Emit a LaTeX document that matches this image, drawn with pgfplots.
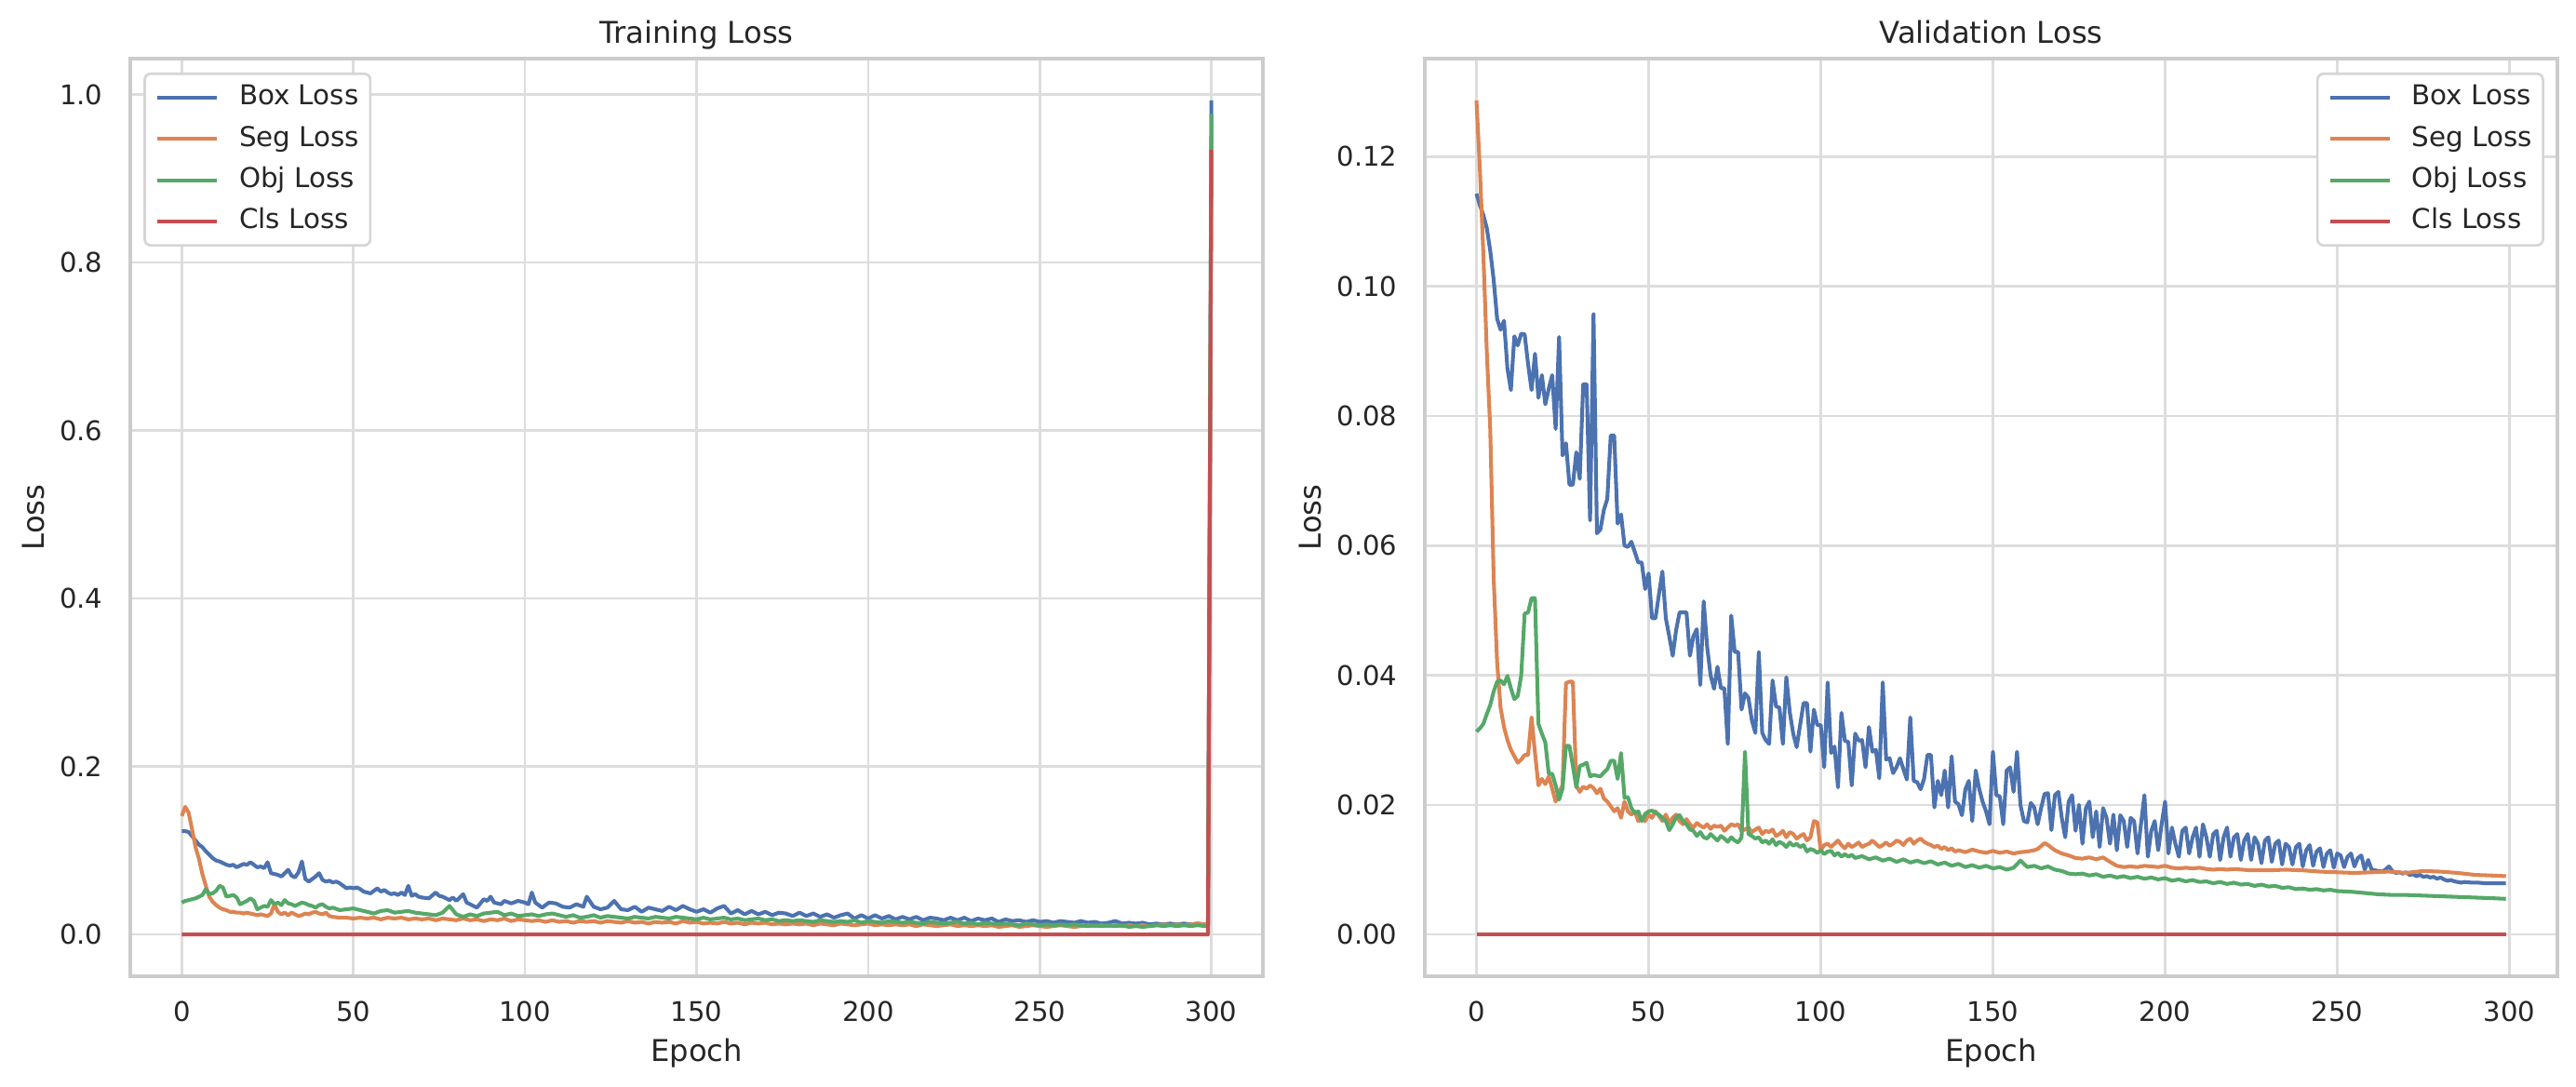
\documentclass[border=0pt]{standalone}
\usepackage{fontspec}
\setmainfont{DejaVu Sans}
\usepackage{pgfplots}
\pgfplotsset{compat=1.18}
\definecolor{cBlue}{HTML}{4C72B0}
\definecolor{cOrange}{HTML}{DD8452}
\definecolor{cGreen}{HTML}{55A868}
\definecolor{cRed}{HTML}{C44E52}
\definecolor{txt}{HTML}{262626}
\definecolor{spine}{HTML}{CCCCCC}
\definecolor{gridc}{HTML}{DDDDDD}
\definecolor{legc}{HTML}{D5D5D5}
\pgfplotsset{
  lossaxis/.style={
    scale only axis, width=464.5pt, height=376.34pt,
    xmin=-15, xmax=315, xtick={0,50,100,150,200,250,300},
    grid=major, major grid style={color=gridc, line width=1pt},
    axis line style={color=spine, line width=1.25pt},
    major tick length=0pt,
    tick label style={font=\fontsize{11.1}{13}\selectfont, text=txt, inner sep=0pt},
    /pgf/number format/assume math mode=true,
    xticklabel style={anchor=base, yshift=-18.7pt},
    yticklabel style={anchor=east, xshift=-11.1pt},
    every axis title/.style={at={(axis description cs:0.5,1)}, anchor=base, yshift=6.2pt, font=\fontsize{12.3}{14}\selectfont, text=txt},
    every axis x label/.style={at={(axis description cs:0.5,0)}, anchor=base, yshift=-35.1pt, font=\fontsize{12.3}{14}\selectfont, text=txt},
    xlabel=Epoch, ylabel=Loss,
    legend cell align=left,
    legend image code/.code={\path[draw=none,fill=none] (0pt,-4pt) rectangle (33.5pt,3pt); \draw[##1, sharp corners, line width=1.55pt] (0pt,0pt) -- (24.3pt,0pt);},
    every axis plot/.append style={line width=1.55pt, line join=round},
    legend style={draw=legc, line width=1pt, rounded corners=2.5pt, fill=white, font=\fontsize{11.2}{13}\selectfont, text=txt, inner xsep=4.5pt, inner ysep=4.3pt, row sep=5.8pt, nodes={inner sep=0pt, text height=8.5pt, text depth=2.6pt}},
  }
}
\begin{document}
\begin{tikzpicture}
\useasboundingbox (0,0) rectangle (1056.49pt,445.8pt);
% ---------------- Training ----------------
\begin{axis}[lossaxis,
  at={(53.44pt,45.42pt)}, anchor=south west,
  title={Training Loss},
  ymin=-0.0497, ymax=1.0427, ytick={0,0.2,0.4,0.6,0.8,1.0},
  yticklabel style={/pgf/number format/.cd, fixed, fixed zerofill, precision=1},
  every axis y label/.style={at={(axis description cs:0,0.5)}, xshift=-35.4pt, rotate=90, anchor=base, font=\fontsize{12.3}{14}\selectfont, text=txt},
  legend style={at={(0,1)}, anchor=north west, xshift=5.4pt, yshift=-5.7pt},
]
\addplot[cBlue] coordinates {(0,0.123)(1,0.123)(2,0.122)(3,0.117)(4,0.112)(5,0.107)(6,0.104)(7,0.099)(8,0.095)(9,0.091)(10,0.088)(11,0.087)(12,0.085)(13,0.083)(14,0.082)(15,0.083)(16,0.080)(17,0.082)(18,0.084)(19,0.083)(20,0.086)(21,0.083)(22,0.080)(23,0.081)(24,0.079)(25,0.086)(26,0.073)(27,0.072)(28,0.071)(29,0.069)(30,0.073)(31,0.077)(32,0.070)(33,0.068)(34,0.074)(35,0.087)(36,0.066)(37,0.063)(38,0.066)(39,0.069)(40,0.073)(41,0.065)(42,0.063)(43,0.064)(44,0.062)(45,0.063)(46,0.061)(47,0.058)(48,0.055)(49,0.056)(50,0.055)(51,0.056)(52,0.054)(53,0.051)(54,0.050)(55,0.049)(56,0.052)(57,0.055)(58,0.051)(59,0.053)(60,0.050)(61,0.048)(62,0.049)(63,0.047)(64,0.050)(65,0.047)(66,0.058)(67,0.046)(68,0.048)(69,0.045)(70,0.044)(72,0.043)(74,0.050)(75,0.046)(76,0.045)(78,0.041)(79,0.044)(80,0.040)(82,0.048)(83,0.038)(84,0.036)(86,0.032)(88,0.042)(89,0.040)(90,0.045)(91,0.038)(93,0.036)(94,0.040)(96,0.037)(98,0.040)(100,0.038)(101,0.036)(102,0.050)(103,0.038)(105,0.032)(107,0.038)(109,0.037)(111,0.033)(113,0.032)(115,0.036)(117,0.033)(118,0.045)(120,0.033)(122,0.030)(124,0.032)(126,0.040)(128,0.030)(130,0.029)(132,0.033)(134,0.027)(136,0.032)(138,0.030)(140,0.028)(142,0.033)(144,0.029)(146,0.034)(148,0.030)(150,0.027)(152,0.030)(154,0.026)(156,0.031)(158,0.034)(160,0.025)(162,0.029)(164,0.024)(166,0.028)(168,0.024)(170,0.027)(172,0.023)(174,0.026)(176,0.025)(178,0.022)(180,0.026)(182,0.022)(184,0.025)(186,0.021)(188,0.024)(190,0.020)(192,0.023)(194,0.025)(196,0.019)(198,0.023)(200,0.019)(202,0.023)(204,0.019)(206,0.022)(208,0.018)(210,0.021)(212,0.018)(214,0.021)(216,0.017)(218,0.020)(220,0.019)(222,0.017)(224,0.020)(226,0.017)(228,0.020)(230,0.016)(232,0.019)(234,0.017)(236,0.019)(238,0.015)(240,0.018)(242,0.016)(244,0.017)(246,0.015)(248,0.017)(250,0.015)(252,0.016)(254,0.014)(256,0.016)(258,0.015)(260,0.014)(262,0.016)(264,0.014)(266,0.015)(268,0.013)(270,0.014)(272,0.016)(274,0.013)(276,0.014)(278,0.013)(280,0.014)(282,0.012)(284,0.013)(286,0.012)(288,0.013)(290,0.012)(292,0.013)(294,0.012)(296,0.013)(298,0.012)(299,0.012)(300,0.993)};
\addlegendentry{Box Loss}
\addplot[cOrange] coordinates {(0,0.141)(1,0.152)(2,0.145)(3,0.125)(4,0.104)(5,0.090)(6,0.072)(7,0.058)(8,0.045)(9,0.039)(10,0.035)(11,0.032)(12,0.030)(13,0.029)(14,0.027)(15,0.027)(16,0.026)(17,0.026)(18,0.025)(19,0.026)(20,0.025)(21,0.024)(22,0.023)(23,0.024)(24,0.023)(25,0.022)(26,0.025)(27,0.036)(28,0.027)(29,0.024)(30,0.026)(31,0.023)(32,0.026)(33,0.024)(34,0.022)(35,0.023)(36,0.025)(37,0.024)(38,0.026)(39,0.027)(40,0.025)(41,0.024)(42,0.026)(43,0.022)(44,0.021)(46,0.020)(48,0.020)(50,0.019)(52,0.020)(54,0.019)(56,0.020)(58,0.018)(60,0.020)(62,0.019)(64,0.020)(66,0.018)(68,0.019)(70,0.018)(72,0.019)(74,0.017)(76,0.019)(78,0.018)(80,0.017)(82,0.019)(84,0.017)(86,0.018)(88,0.016)(90,0.018)(92,0.017)(94,0.019)(96,0.016)(98,0.018)(100,0.017)(102,0.016)(104,0.017)(106,0.015)(108,0.017)(110,0.015)(112,0.016)(114,0.014)(116,0.016)(118,0.015)(120,0.016)(122,0.014)(124,0.016)(126,0.015)(128,0.014)(130,0.016)(132,0.014)(134,0.015)(136,0.013)(138,0.015)(140,0.014)(142,0.015)(144,0.013)(146,0.016)(148,0.014)(150,0.015)(152,0.013)(154,0.014)(156,0.013)(158,0.015)(160,0.013)(162,0.014)(164,0.012)(166,0.014)(168,0.013)(170,0.014)(172,0.012)(174,0.013)(176,0.012)(178,0.013)(180,0.012)(182,0.013)(184,0.011)(186,0.013)(188,0.012)(190,0.011)(192,0.013)(194,0.012)(196,0.011)(198,0.012)(200,0.013)(202,0.011)(204,0.012)(206,0.011)(208,0.012)(210,0.011)(212,0.012)(214,0.010)(216,0.012)(218,0.011)(220,0.010)(222,0.011)(224,0.012)(226,0.010)(228,0.011)(230,0.010)(232,0.011)(234,0.010)(236,0.011)(238,0.009)(240,0.010)(242,0.011)(244,0.009)(246,0.010)(248,0.011)(250,0.010)(252,0.009)(254,0.010)(256,0.011)(258,0.010)(260,0.009)(262,0.010)(264,0.011)(266,0.010)(268,0.011)(270,0.010)(272,0.011)(274,0.010)(276,0.011)(278,0.010)(280,0.011)(282,0.010)(284,0.011)(286,0.012)(288,0.011)(290,0.012)(292,0.011)(294,0.012)(296,0.013)(298,0.012)(299,0.012)(300,0.930)};
\addlegendentry{Seg Loss}
\addplot[cGreen] coordinates {(0,0.038)(1,0.040)(2,0.041)(3,0.042)(4,0.043)(5,0.045)(6,0.047)(7,0.054)(8,0.048)(9,0.049)(10,0.052)(11,0.058)(12,0.056)(13,0.045)(14,0.046)(15,0.047)(16,0.044)(17,0.036)(18,0.038)(19,0.040)(20,0.043)(21,0.040)(22,0.030)(23,0.032)(24,0.034)(25,0.033)(26,0.041)(27,0.036)(28,0.038)(29,0.035)(30,0.041)(31,0.037)(32,0.036)(33,0.034)(34,0.036)(35,0.038)(36,0.037)(37,0.035)(38,0.034)(39,0.032)(40,0.035)(41,0.036)(42,0.033)(43,0.031)(44,0.032)(46,0.029)(48,0.030)(50,0.031)(52,0.029)(54,0.027)(56,0.025)(58,0.028)(60,0.029)(62,0.026)(64,0.027)(66,0.028)(68,0.026)(70,0.025)(72,0.024)(74,0.023)(76,0.026)(78,0.034)(80,0.024)(82,0.021)(84,0.024)(86,0.022)(88,0.025)(90,0.026)(92,0.027)(94,0.023)(96,0.025)(98,0.022)(100,0.023)(102,0.024)(104,0.022)(106,0.024)(108,0.025)(110,0.023)(112,0.021)(114,0.023)(116,0.020)(118,0.021)(120,0.023)(122,0.020)(124,0.022)(126,0.021)(128,0.020)(130,0.019)(132,0.021)(134,0.020)(136,0.019)(138,0.021)(140,0.020)(142,0.019)(144,0.021)(146,0.020)(148,0.019)(150,0.018)(152,0.020)(154,0.018)(156,0.019)(158,0.020)(160,0.018)(162,0.019)(164,0.017)(166,0.018)(168,0.019)(170,0.017)(172,0.018)(174,0.016)(176,0.017)(178,0.016)(180,0.017)(182,0.016)(184,0.015)(186,0.017)(188,0.016)(190,0.015)(192,0.016)(194,0.015)(196,0.017)(198,0.014)(200,0.016)(202,0.015)(204,0.014)(206,0.016)(208,0.015)(210,0.014)(212,0.015)(214,0.014)(216,0.013)(218,0.015)(220,0.014)(222,0.013)(224,0.014)(226,0.015)(228,0.013)(230,0.014)(232,0.012)(234,0.014)(236,0.013)(238,0.012)(240,0.013)(242,0.012)(244,0.011)(246,0.013)(248,0.012)(250,0.011)(252,0.012)(254,0.011)(256,0.012)(258,0.011)(260,0.012)(262,0.011)(264,0.010)(266,0.011)(268,0.010)(270,0.011)(272,0.010)(274,0.011)(276,0.009)(278,0.010)(280,0.009)(282,0.010)(284,0.011)(286,0.010)(288,0.011)(290,0.010)(292,0.011)(294,0.010)(296,0.011)(298,0.010)(299,0.010)(300,0.977)};
\addlegendentry{Obj Loss}
\addplot[cRed] coordinates {(0,0)(299,0)(300,0.934)};
\addlegendentry{Cls Loss}
\end{axis}
% ---------------- Validation ----------------
\begin{axis}[lossaxis,
  at={(584.35pt,45.42pt)}, anchor=south west,
  title={Validation Loss},
  xmax=313.95,
  ymin=-0.00644, ymax=0.13514, ytick={0,0.02,0.04,0.06,0.08,0.10,0.12},
  scaled y ticks=false,
  yticklabel style={/pgf/number format/.cd, fixed, fixed zerofill, precision=2},
  every axis y label/.style={at={(axis description cs:0,0.5)}, xshift=-42.4pt, rotate=90, anchor=base, font=\fontsize{12.3}{14}\selectfont, text=txt},
  legend style={at={(1,1)}, anchor=north east, xshift=-5.4pt, yshift=-5.7pt},
]
\addplot[cBlue] coordinates {(0,0.1143)(1,0.1125)(2,0.1110)(3,0.1090)(4,0.1055)(5,0.1010)(6,0.0950)(7,0.0933)(8,0.0947)(9,0.0873)(10,0.0840)(11,0.0923)(12,0.0909)(13,0.0927)(14,0.0926)(15,0.0880)(16,0.0840)(17,0.0896)(18,0.0828)(19,0.0863)(20,0.0818)(21,0.0842)(22,0.0863)(23,0.0780)(24,0.0922)(25,0.0739)(26,0.0758)(27,0.0694)(28,0.0694)(29,0.0744)(30,0.0703)(31,0.0849)(32,0.0849)(33,0.0639)(34,0.0957)(35,0.0619)(36,0.0625)(37,0.0655)(38,0.0672)(39,0.0770)(40,0.0770)(41,0.0634)(42,0.0648)(43,0.0600)(44,0.0598)(45,0.0606)(46,0.0590)(47,0.0574)(48,0.0574)(49,0.0533)(50,0.0557)(51,0.0488)(52,0.0488)(53,0.0525)(54,0.0560)(55,0.0488)(56,0.0460)(57,0.0430)(58,0.0470)(59,0.0497)(60,0.0497)(61,0.0497)(62,0.0430)(63,0.0460)(64,0.0471)(65,0.0385)(66,0.0514)(67,0.0444)(68,0.0400)(69,0.0379)(70,0.0413)(71,0.0380)(72,0.0380)(73,0.0294)(74,0.0492)(75,0.0436)(76,0.0436)(77,0.0347)(78,0.0372)(79,0.0365)(80,0.0330)(81,0.0311)(82,0.0436)(83,0.0311)(84,0.0300)(85,0.0294)(86,0.0392)(87,0.0352)(88,0.0350)(89,0.0294)(90,0.0397)(91,0.0343)(92,0.0310)(93,0.0289)(94,0.0323)(95,0.0357)(96,0.0357)(97,0.0282)(98,0.0347)(99,0.0323)(100,0.0323)(101,0.0258)(102,0.0389)(103,0.0280)(104,0.0290)(105,0.0227)(106,0.0342)(107,0.0299)(108,0.0297)(109,0.0230)(110,0.0310)(111,0.0299)(112,0.0300)(113,0.0258)(114,0.0320)(115,0.0282)(116,0.0285)(117,0.0241)(118,0.0389)(119,0.0270)(120,0.0272)(121,0.0249)(122,0.0258)(123,0.0272)(124,0.0255)(125,0.0239)(126,0.0335)(127,0.0237)(128,0.0235)(129,0.0224)(130,0.0240)(131,0.0277)(132,0.0277)(133,0.0196)(134,0.0237)(135,0.0215)(136,0.0253)(137,0.0196)(138,0.0275)(139,0.0205)(140,0.0201)(141,0.0184)(142,0.0224)(143,0.0237)(144,0.0175)(145,0.0253)(146,0.0225)(147,0.0205)(148,0.0190)(149,0.0170)(150,0.0282)(151,0.0215)(152,0.0213)(153,0.0170)(154,0.0253)(155,0.0258)(156,0.0220)(157,0.0282)(158,0.0200)(159,0.0175)(160,0.0173)(161,0.0203)(162,0.0196)(163,0.0170)(164,0.0195)(165,0.0217)(166,0.0218)(167,0.0161)(168,0.0215)(169,0.0220)(170,0.0180)(171,0.0150)(172,0.0205)(173,0.0215)(174,0.0160)(175,0.0200)(176,0.0140)(177,0.0195)(178,0.0205)(179,0.0150)(180,0.0190)(181,0.0135)(182,0.0195)(183,0.0180)(184,0.0140)(185,0.0185)(186,0.0130)(187,0.0184)(188,0.0175)(189,0.0135)(190,0.0180)(191,0.0175)(192,0.0125)(193,0.0170)(194,0.0215)(195,0.0120)(196,0.0160)(197,0.0175)(198,0.0130)(199,0.0170)(200,0.0205)(201,0.0125)(202,0.0165)(203,0.0140)(204,0.0120)(205,0.0160)(206,0.0165)(207,0.0125)(208,0.0150)(209,0.0165)(210,0.0120)(211,0.0170)(212,0.0150)(213,0.0120)(214,0.0155)(215,0.0160)(216,0.0115)(217,0.0150)(218,0.0165)(219,0.0120)(220,0.0150)(221,0.0155)(222,0.0115)(223,0.0145)(224,0.0155)(225,0.0115)(226,0.0150)(227,0.0140)(228,0.0110)(229,0.0145)(230,0.0150)(231,0.0112)(232,0.0140)(233,0.0145)(234,0.0108)(235,0.0140)(236,0.0135)(237,0.0108)(238,0.0135)(239,0.0140)(240,0.0105)(241,0.0130)(242,0.0138)(243,0.0106)(244,0.0128)(245,0.0133)(246,0.0104)(247,0.0125)(248,0.0130)(249,0.0103)(250,0.0125)(251,0.0122)(252,0.0104)(253,0.0120)(254,0.0125)(255,0.0105)(256,0.0118)(257,0.0122)(258,0.0100)(259,0.0115)(260,0.0100)(261,0.0099)(262,0.0098)(263,0.0097)(264,0.0100)(265,0.0105)(266,0.0098)(267,0.0095)(268,0.0096)(269,0.0094)(270,0.0096)(271,0.0092)(272,0.0093)(273,0.0090)(274,0.0092)(275,0.0089)(276,0.0090)(277,0.0088)(278,0.0089)(279,0.0086)(280,0.0088)(281,0.0085)(282,0.0083)(283,0.0084)(284,0.0082)(285,0.0081)(286,0.0080)(287,0.0081)(289,0.0080)(291,0.0080)(293,0.0079)(295,0.0079)(297,0.0079)(299,0.0079)};
\addlegendentry{Box Loss}
\addplot[cOrange] coordinates {(0,0.1287)(1,0.1180)(2,0.1050)(3,0.0900)(4,0.0780)(5,0.0550)(6,0.0420)(7,0.0350)(8,0.0320)(9,0.0300)(10,0.0285)(11,0.0275)(12,0.0265)(13,0.0270)(14,0.0277)(15,0.0277)(16,0.0335)(17,0.0280)(18,0.0230)(19,0.0240)(20,0.0232)(21,0.0244)(22,0.0225)(23,0.0205)(24,0.0220)(25,0.0230)(26,0.0388)(27,0.0390)(28,0.0390)(29,0.0230)(30,0.0220)(31,0.0228)(32,0.0225)(33,0.0230)(34,0.0226)(35,0.0218)(36,0.0225)(37,0.0210)(38,0.0205)(39,0.0198)(40,0.0190)(41,0.0195)(42,0.0180)(43,0.0205)(44,0.0190)(45,0.0185)(46,0.0190)(47,0.0175)(48,0.0178)(49,0.0175)(50,0.0185)(51,0.0180)(52,0.0190)(53,0.0183)(54,0.0175)(55,0.0185)(56,0.0172)(57,0.0180)(58,0.0185)(59,0.0175)(60,0.0170)(61,0.0178)(62,0.0170)(63,0.0165)(64,0.0172)(65,0.0168)(66,0.0165)(67,0.0170)(68,0.0163)(69,0.0168)(70,0.0166)(71,0.0168)(72,0.0160)(73,0.0165)(74,0.0170)(75,0.0168)(76,0.0170)(77,0.0160)(78,0.0162)(79,0.0165)(80,0.0158)(81,0.0162)(82,0.0165)(83,0.0155)(84,0.0160)(85,0.0158)(86,0.0162)(87,0.0152)(88,0.0155)(89,0.0160)(90,0.0150)(91,0.0158)(92,0.0155)(93,0.0148)(94,0.0152)(95,0.0155)(96,0.0145)(97,0.0150)(98,0.0175)(99,0.0173)(100,0.0130)(101,0.0138)(102,0.0140)(103,0.0135)(104,0.0140)(105,0.0145)(106,0.0138)(107,0.0133)(108,0.0140)(109,0.0135)(110,0.0138)(111,0.0142)(112,0.0135)(113,0.0138)(114,0.0140)(115,0.0145)(116,0.0140)(117,0.0135)(118,0.0138)(119,0.0142)(120,0.0137)(121,0.0140)(122,0.0145)(123,0.0143)(124,0.0138)(125,0.0145)(126,0.0148)(127,0.0140)(128,0.0145)(129,0.0148)(130,0.0143)(131,0.0140)(132,0.0138)(133,0.0135)(134,0.0137)(135,0.0132)(136,0.0135)(137,0.0130)(138,0.0133)(139,0.0128)(140,0.0130)(142,0.0127)(144,0.0131)(146,0.0128)(148,0.0126)(150,0.0129)(152,0.0126)(154,0.0128)(156,0.0125)(158,0.0127)(160,0.0128)(162,0.0130)(163,0.0132)(165,0.0141)(166,0.0138)(168,0.0130)(170,0.0125)(172,0.0122)(174,0.0118)(176,0.0117)(178,0.0119)(180,0.0116)(182,0.0119)(184,0.0112)(186,0.0106)(188,0.0104)(190,0.0105)(192,0.0104)(194,0.0106)(196,0.0105)(198,0.0104)(200,0.0106)(202,0.0103)(204,0.0102)(206,0.0103)(208,0.0102)(210,0.0103)(212,0.0101)(214,0.0100)(216,0.0101)(218,0.0100)(220,0.0101)(225,0.0099)(230,0.0099)(235,0.0100)(240,0.0099)(245,0.0097)(250,0.0096)(255,0.0095)(260,0.0096)(265,0.0097)(270,0.0095)(275,0.0098)(280,0.0097)(285,0.0095)(290,0.0092)(295,0.0091)(299,0.0090)};
\addlegendentry{Seg Loss}
\addplot[cGreen] coordinates {(0,0.0313)(1,0.0318)(2,0.0325)(3,0.0340)(4,0.0354)(5,0.0375)(6,0.0390)(7,0.0392)(8,0.0386)(9,0.0399)(10,0.0380)(11,0.0363)(12,0.0368)(13,0.0400)(14,0.0495)(15,0.0497)(16,0.0519)(17,0.0519)(18,0.0325)(19,0.0310)(20,0.0296)(21,0.0248)(22,0.0248)(23,0.0230)(24,0.0208)(25,0.0225)(26,0.0291)(27,0.0291)(28,0.0260)(29,0.0227)(30,0.0260)(31,0.0262)(32,0.0265)(33,0.0244)(34,0.0246)(35,0.0245)(36,0.0244)(37,0.0250)(38,0.0255)(39,0.0268)(40,0.0268)(41,0.0240)(42,0.0280)(43,0.0211)(44,0.0212)(45,0.0195)(46,0.0187)(47,0.0190)(48,0.0175)(49,0.0186)(50,0.0190)(51,0.0191)(52,0.0188)(53,0.0185)(54,0.0180)(55,0.0175)(56,0.0161)(57,0.0170)(58,0.0181)(59,0.0184)(60,0.0175)(61,0.0170)(62,0.0162)(63,0.0160)(64,0.0152)(65,0.0158)(66,0.0150)(67,0.0148)(68,0.0155)(69,0.0150)(70,0.0145)(71,0.0152)(72,0.0148)(73,0.0143)(74,0.0150)(75,0.0145)(76,0.0142)(77,0.0150)(78,0.0282)(79,0.0155)(80,0.0152)(81,0.0148)(82,0.0150)(83,0.0142)(84,0.0145)(85,0.0140)(86,0.0147)(87,0.0138)(88,0.0143)(89,0.0140)(90,0.0135)(91,0.0142)(92,0.0137)(93,0.0140)(94,0.0135)(95,0.0138)(96,0.0128)(97,0.0132)(98,0.0130)(99,0.0126)(100,0.0130)(101,0.0124)(102,0.0128)(103,0.0129)(104,0.0122)(105,0.0126)(106,0.0120)(107,0.0124)(108,0.0120)(109,0.0123)(110,0.0118)(112,0.0121)(114,0.0116)(116,0.0119)(118,0.0114)(120,0.0117)(122,0.0112)(124,0.0116)(126,0.0111)(128,0.0114)(130,0.0110)(132,0.0113)(134,0.0108)(136,0.0111)(138,0.0106)(140,0.0109)(142,0.0104)(144,0.0107)(146,0.0103)(148,0.0106)(150,0.0102)(152,0.0104)(154,0.0100)(156,0.0103)(158,0.0114)(160,0.0104)(162,0.0106)(164,0.0102)(166,0.0105)(168,0.0100)(170,0.0098)(172,0.0094)(174,0.0093)(176,0.0094)(178,0.0091)(180,0.0093)(182,0.0089)(184,0.0091)(186,0.0088)(188,0.0090)(190,0.0087)(192,0.0089)(194,0.0086)(196,0.0088)(198,0.0085)(200,0.0087)(202,0.0083)(204,0.0085)(206,0.0082)(208,0.0084)(210,0.0081)(212,0.0082)(214,0.0079)(216,0.0081)(218,0.0078)(220,0.0080)(222,0.0077)(224,0.0078)(226,0.0075)(228,0.0077)(230,0.0074)(232,0.0075)(234,0.0072)(236,0.0073)(238,0.0070)(240,0.0071)(242,0.0069)(244,0.0070)(246,0.0068)(248,0.0069)(250,0.0067)(254,0.0066)(258,0.0064)(262,0.0062)(266,0.0061)(270,0.0061)(275,0.0060)(280,0.0059)(285,0.0058)(290,0.0057)(295,0.0056)(299,0.0055)};
\addlegendentry{Obj Loss}
\addplot[cRed] coordinates {(0,0)(299,0)};
\addlegendentry{Cls Loss}
\end{axis}
\end{tikzpicture}
\end{document}
